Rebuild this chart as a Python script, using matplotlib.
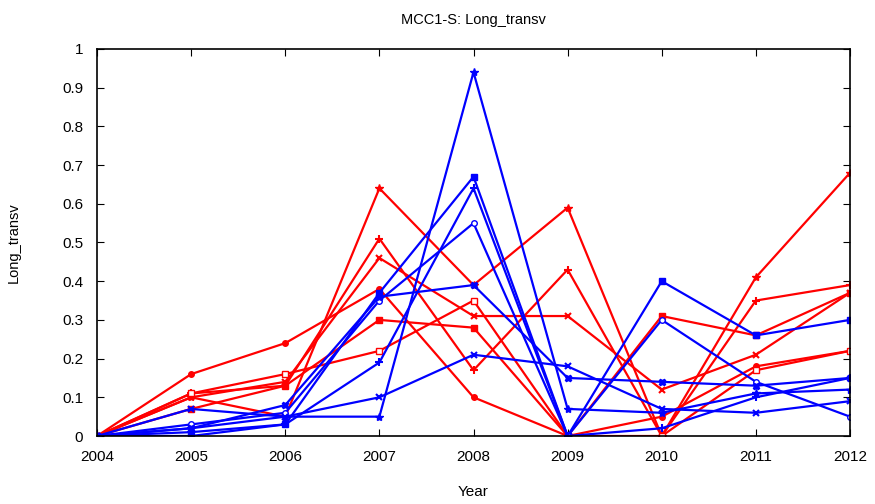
import numpy as np
import matplotlib
matplotlib.use('Agg')
import matplotlib.pyplot as plt

plt.rcParams['font.family'] = ['Liberation Sans', 'DejaVu Sans']

years = [2004, 2005, 2006, 2007, 2008, 2009, 2010, 2011, 2012]

# red group
red_star = [0, 0.10, 0.05, 0.64, 0.39, 0.59, 0, 0.41, 0.68]
red_plus = [0, 0.11, 0.13, 0.51, 0.17, 0.43, 0, 0.35, 0.39]
red_x = [0, 0.10, 0.14, 0.46, 0.31, 0.31, 0.12, 0.21, 0.37]
red_circle = [0, 0.16, 0.24, 0.38, 0.10, 0, 0.05, 0.18, 0.22]
red_square = [0, 0.07, 0.13, 0.30, 0.28, 0, 0.31, 0.26, 0.37]
red_osquare = [0, 0.11, 0.16, 0.22, 0.35, 0, 0, 0.17, 0.22]

# blue group
blue_star = [0, 0.02, 0.05, 0.05, 0.94, 0.07, 0.06, 0.11, 0.12]
blue_square = [0, 0.0, 0.03, 0.37, 0.67, 0, 0.40, 0.26, 0.30]
blue_circle = [0, 0.03, 0.06, 0.35, 0.55, 0, 0.30, 0.14, 0.05]
blue_plus = [0, 0.01, 0.03, 0.19, 0.64, 0, 0.02, 0.10, 0.15]
blue_x = [0, 0.07, 0.05, 0.10, 0.21, 0.18, 0.07, 0.06, 0.09]
blue_sq2 = [0, 0.02, 0.08, 0.36, 0.39, 0.15, 0.14, 0.13, 0.15]

fig = plt.figure(figsize=(8.75, 5.04), dpi=100)
ax = fig.add_axes([0.1109, 0.1349, 0.8605, 0.7679])

red = '#ff0000'
blue = '#0000ff'
lw = 1.6

ax.plot(years, red_star, color=red, lw=lw, marker='*', ms=6)
ax.plot(years, red_plus, color=red, lw=lw, marker='+', ms=6, mew=1.5)
ax.plot(years, red_x, color=red, lw=lw, marker='x', ms=5, mew=1.5)
ax.plot(years, red_circle, color=red, lw=lw, marker='o', ms=4)
ax.plot(years, red_square, color=red, lw=lw, marker='s', ms=5)
ax.plot(years, red_osquare, color=red, lw=lw, marker='s', ms=5, mfc='white')

ax.plot(years, blue_star, color=blue, lw=lw, marker='*', ms=6)
ax.plot(years, blue_square, color=blue, lw=lw, marker='s', ms=5)
ax.plot(years, blue_circle, color=blue, lw=lw, marker='o', ms=4, mfc='white')
ax.plot(years, blue_plus, color=blue, lw=lw, marker='+', ms=6, mew=1.5)
ax.plot(years, blue_x, color=blue, lw=lw, marker='x', ms=5, mew=1.5)
ax.plot(years, blue_sq2, color=blue, lw=lw, marker='X', ms=5)

ax.set_xlim(2004, 2012)
ax.set_ylim(0, 1)
ax.set_xticks(years)
ax.set_yticks(np.arange(0, 1.01, 0.1))
ax.set_yticklabels(['0', '0.1', '0.2', '0.3', '0.4', '0.5', '0.6', '0.7', '0.8', '0.9', '1'])
ax.tick_params(direction='in', top=True, right=True, labelsize=11, length=5, pad=10)
for s in ax.spines.values():
    s.set_linewidth(1.2)

ax.set_title('MCC1-S: Long_transv', fontsize=10.5, pad=18)
ax.set_xlabel('Year', fontsize=11, labelpad=15)
ax.set_ylabel('Long_transv', fontsize=10.5, labelpad=30)

fig.savefig('out.png', dpi=100)
